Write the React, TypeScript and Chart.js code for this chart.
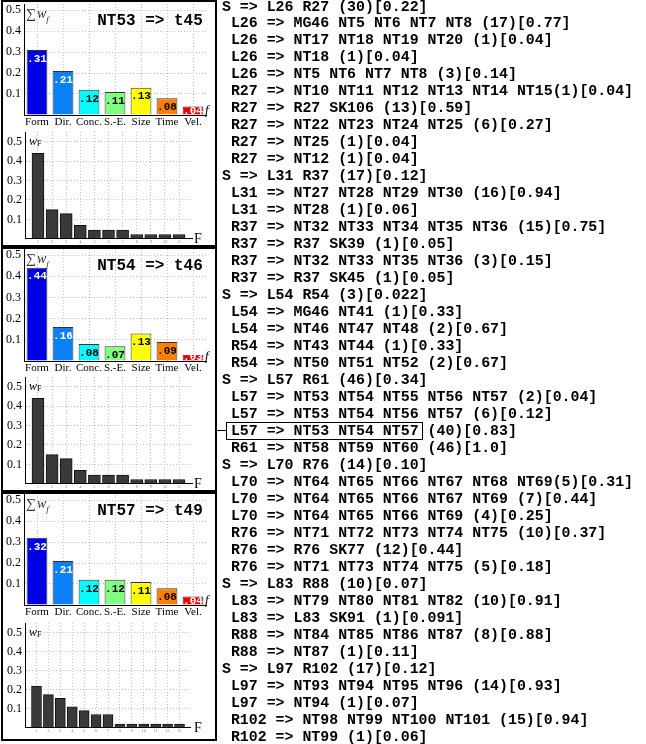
import React, { useEffect, useRef } from 'react';
import { Chart, registerables } from 'chart.js';

Chart.register(...registerables);
document.body.style.margin = '0';

// ---------- data ----------
const featureLabels = ['Form', 'Dir.', 'Conc.', 'S.-E.', 'Size', 'Time', 'Vel.'];
const featureColors = ['#0000e6', '#0a80f5', '#00ffff', '#80ff80', '#ffff00', '#ff8000', '#f00000'];
const featureTextColors = ['#ffffff', '#ffffff', '#000000', '#000000', '#000000', '#000000', '#ffffff'];

const panelTitles = ['NT53 => t45', 'NT54 => t46', 'NT57 => t49'];

const featureWeightsNT53 = [0.31, 0.21, 0.12, 0.11, 0.13, 0.08, 0.04];
const featureWeightsNT54 = [0.44, 0.16, 0.08, 0.07, 0.13, 0.09, 0.03];
const featureWeightsNT57 = [0.32, 0.21, 0.12, 0.12, 0.11, 0.08, 0.04];

const ruleIndexNT53 = [1, 2, 3, 4, 5, 6, 7, 8, 9, 10, 11];
const ruleWeightsNT53 = [0.44, 0.15, 0.13, 0.07, 0.045, 0.045, 0.045, 0.022, 0.022, 0.022, 0.022];
const ruleIndexNT54 = [1, 2, 3, 4, 5, 6, 7, 8, 9, 10, 11];
const ruleWeightsNT54 = [0.44, 0.15, 0.13, 0.07, 0.045, 0.045, 0.045, 0.022, 0.022, 0.022, 0.022];
const ruleIndexNT57 = [1, 2, 3, 4, 5, 6, 7, 8, 9, 10, 11, 12, 13];
const ruleWeightsNT57 = [0.22, 0.175, 0.155, 0.11, 0.09, 0.07, 0.07, 0.02, 0.02, 0.02, 0.02, 0.02, 0.02];

const grammarLines = [
  'S => L26 R27 (30)[0.22]',
  ' L26 => MG46 NT5 NT6 NT7 NT8 (17)[0.77]',
  ' L26 => NT17 NT18 NT19 NT20 (1)[0.04]',
  ' L26 => NT18 (1)[0.04]',
  ' L26 => NT5 NT6 NT7 NT8 (3)[0.14]',
  ' R27 => NT10 NT11 NT12 NT13 NT14 NT15(1)[0.04]',
  ' R27 => R27 SK106 (13)[0.59]',
  ' R27 => NT22 NT23 NT24 NT25 (6)[0.27]',
  ' R27 => NT25 (1)[0.04]',
  ' R27 => NT12 (1)[0.04]',
  'S => L31 R37 (17)[0.12]',
  ' L31 => NT27 NT28 NT29 NT30 (16)[0.94]',
  ' L31 => NT28 (1)[0.06]',
  ' R37 => NT32 NT33 NT34 NT35 NT36 (15)[0.75]',
  ' R37 => R37 SK39 (1)[0.05]',
  ' R37 => NT32 NT33 NT35 NT36 (3)[0.15]',
  ' R37 => R37 SK45 (1)[0.05]',
  'S => L54 R54 (3)[0.022]',
  ' L54 => MG46 NT41 (1)[0.33]',
  ' L54 => NT46 NT47 NT48 (2)[0.67]',
  ' R54 => NT43 NT44 (1)[0.33]',
  ' R54 => NT50 NT51 NT52 (2)[0.67]',
  'S => L57 R61 (46)[0.34]',
  ' L57 => NT53 NT54 NT55 NT56 NT57 (2)[0.04]',
  ' L57 => NT53 NT54 NT56 NT57 (6)[0.12]',
  ' L57 => NT53 NT54 NT57 (40)[0.83]',
  ' R61 => NT58 NT59 NT60 (46)[1.0]',
  'S => L70 R76 (14)[0.10]',
  ' L70 => NT64 NT65 NT66 NT67 NT68 NT69(5)[0.31]',
  ' L70 => NT64 NT65 NT66 NT67 NT69 (7)[0.44]',
  ' L70 => NT64 NT65 NT66 NT69 (4)[0.25]',
  ' R76 => NT71 NT72 NT73 NT74 NT75 (10)[0.37]',
  ' R76 => R76 SK77 (12)[0.44]',
  ' R76 => NT71 NT73 NT74 NT75 (5)[0.18]',
  'S => L83 R88 (10)[0.07]',
  ' L83 => NT79 NT80 NT81 NT82 (10)[0.91]',
  ' L83 => L83 SK91 (1)[0.091]',
  ' R88 => NT84 NT85 NT86 NT87 (8)[0.88]',
  ' R88 => NT87 (1)[0.11]',
  'S => L97 R102 (17)[0.12]',
  ' L97 => NT93 NT94 NT95 NT96 (14)[0.93]',
  ' L97 => NT94 (1)[0.07]',
  ' R102 => NT98 NT99 NT100 NT101 (15)[0.94]',
  ' R102 => NT99 (1)[0.06]',
];
const highlightedLine = 25;
const highlightedPart = 'L57 => NT53 NT54 NT57';

// ---------- layout (positions only) ----------
const panels = [
  { title: panelTitles[0], feat: featureWeightsNT53, ruleX: ruleIndexNT53, rule: ruleWeightsNT53,
    boxTop: 0, boxH: 247, topHalf: 10, topZero: 115, botHalf: 142, botZero: 241,
    xMin: 0.08, xMax: 11.92, barPx: 12, botRight: 192 },
  { title: panelTitles[1], feat: featureWeightsNT54, ruleX: ruleIndexNT54, rule: ruleWeightsNT54,
    boxTop: 247, boxH: 245, topHalf: 255, topZero: 361, botHalf: 387, botZero: 486,
    xMin: 0.08, xMax: 11.92, barPx: 12, botRight: 192 },
  { title: panelTitles[2], feat: featureWeightsNT57, ruleX: ruleIndexNT57, rule: ruleWeightsNT57,
    boxTop: 492, boxH: 249, topHalf: 500, topZero: 605, botHalf: 633, botZero: 730,
    xMin: 0.035, xMax: 13.88, barPx: 10, botRight: 190 },
];

const GRID = '#c4c4c4';
const SERIF = '"Liberation Serif", "Times New Roman", serif';
const MONO = '"Liberation Mono", "Courier New", monospace';
const CANVAS_W = 216;
const PAD_TOP = 12;

const valueLabelPlugin = {
  id: 'valueLabels',
  afterDatasetsDraw(chart: any) {
    const { ctx } = chart;
    const meta = chart.getDatasetMeta(0);
    const data = chart.data.datasets[0].data as number[];
    const base = chart.scales.y.getPixelForValue(0);
    meta.data.forEach((bar: any, i: number) => {
      const v = data[i];
      const text = '.' + String(Math.round(v * 100)).padStart(2, '0');
      const y = Math.min(bar.y + 9, base - 4);
      ctx.save();
      ctx.font = `bold 11px ${MONO}`;
      ctx.fillStyle = featureTextColors[i];
      ctx.textAlign = 'center';
      ctx.textBaseline = 'middle';
      ctx.fillText(text, bar.x, y);
      ctx.restore();
    });
  },
};

function yAxis(yMax: number, width: number) {
  return {
    min: 0,
    max: yMax,
    grid: { color: (c: any) => (c.tick && c.tick.value > 0.05 ? GRID : 'transparent'), drawTicks: false, lineWidth: 1 },
    border: { display: true, color: '#000', width: 1, dash: [1, 2] },
    ticks: {
      stepSize: 0.1,
      includeBounds: false,
      padding: 3,
      color: '#000',
      font: { family: SERIF, size: 12 },
      callback: (v: number) => (v < 0.05 || v > 0.55 ? '' : v.toFixed(1)),
    },
    afterFit: (s: any) => { s.width = width; },
  };
}

function featureGeom(p: any) {
  const axisTop = p.topHalf - 6;
  const yMax = (0.5 * (p.topZero - axisTop)) / (p.topZero - p.topHalf);
  const top = axisTop - PAD_TOP;
  const xH = 16;
  return { top, height: p.topZero - top + xH, yMax, xH };
}

function ruleGeom(p: any) {
  const axisTop = p.botHalf - 10;
  const yMax = (0.5 * (p.botZero - axisTop)) / (p.botZero - p.botHalf);
  const top = axisTop - PAD_TOP;
  const xH = 8;
  return { top, height: p.botZero - top + xH, yMax, xH };
}

function featureConfig(p: any): any {
  const g = featureGeom(p);
  return {
    type: 'bar',
    data: {
      labels: featureLabels,
      datasets: [{
        data: p.feat,
        backgroundColor: featureColors,
        borderColor: '#333',
        borderWidth: 1,
        barPercentage: 0.8,
        categoryPercentage: 1,
      }],
    },
    options: {
      animation: false,
      responsive: false,
      devicePixelRatio: 1,
      events: [],
      layout: { padding: { top: PAD_TOP, right: CANVAS_W - 206, left: 0, bottom: 0 } },
      plugins: { legend: { display: false }, tooltip: { enabled: false } },
      scales: {
        x: {
          grid: { offset: false, color: GRID, drawTicks: false },
          border: { display: true, color: '#000', width: 1, dash: [1, 2] },
          ticks: { color: '#000', font: { family: SERIF, size: 11 }, padding: 1, maxRotation: 0, minRotation: 0, autoSkip: false },
          afterFit: (s: any) => { s.height = g.xH; },
        },
        y: yAxis(g.yMax, 24),
      },
    },
    plugins: [valueLabelPlugin],
  };
}

function ruleConfig(p: any): any {
  const g = ruleGeom(p);
  const n = p.rule.length;
  return {
    type: 'bar',
    data: {
      datasets: [{
        data: p.rule.map((v: number, i: number) => ({ x: p.ruleX[i], y: v })),
        backgroundColor: '#3a3a3a',
        borderColor: '#111',
        borderWidth: 1,
        barThickness: p.barPx,
      }],
    },
    options: {
      animation: false,
      responsive: false,
      devicePixelRatio: 1,
      events: [],
      layout: { padding: { top: PAD_TOP, right: CANVAS_W - p.botRight, left: 0, bottom: 0 } },
      plugins: { legend: { display: false }, tooltip: { enabled: false } },
      scales: {
        x: {
          type: 'linear',
          min: p.xMin,
          max: p.xMax,
          offset: false,
          grid: { offset: false, drawTicks: false, color: (c: any) => (c.tick && c.tick.value >= 1 && c.tick.value <= n ? GRID : 'transparent') },
          border: { display: true, color: '#000', width: 1, dash: [1, 2] },
          ticks: {
            stepSize: 1,
            includeBounds: false,
            padding: 1,
            color: '#777',
            font: { family: SERIF, size: 4 },
            maxRotation: 0,
            autoSkip: false,
            callback: (v: number) => (Number.isInteger(v) && v >= 1 && v <= n ? String(v) : ''),
          },
          afterFit: (s: any) => { s.height = g.xH; },
        },
        y: yAxis(g.yMax, 25),
      },
    },
  };
}

function ChartCanvas({ top, height, config }: { top: number; height: number; config: () => any }) {
  const ref = useRef<HTMLCanvasElement>(null);
  useEffect(() => {
    const chart = new Chart(ref.current as HTMLCanvasElement, config());
    return () => chart.destroy();
  }, []);
  return (
    <canvas
      ref={ref}
      width={CANVAS_W}
      height={height}
      style={{ position: 'absolute', left: 0, top, width: CANVAS_W, height }}
    />
  );
}

function Panel({ p }: { p: any }) {
  const fg = featureGeom(p);
  const rg = ruleGeom(p);
  return (
    <>
      <ChartCanvas top={fg.top} height={fg.height} config={() => featureConfig(p)} />
      <ChartCanvas top={rg.top} height={rg.height} config={() => ruleConfig(p)} />
      <div style={{ position: 'absolute', left: 26, top: p.topHalf - 3, fontFamily: SERIF, fontSize: 14, lineHeight: '14px', color: '#333', whiteSpace: 'nowrap' }}>
        ∑<i style={{ marginLeft: 1 }}>w</i><sub style={{ fontSize: 9, fontStyle: 'italic' }}>f</sub>
      </div>
      <div style={{ position: 'absolute', left: 80, width: 140, top: p.topHalf + 2, textAlign: 'center', fontFamily: MONO, fontWeight: 'bold', fontSize: 16, lineHeight: '18px', whiteSpace: 'pre', color: '#000' }}>
        {p.title}
      </div>
      <div style={{ position: 'absolute', left: 205, top: p.topZero - 12, fontFamily: SERIF, fontStyle: 'italic', fontSize: 13, lineHeight: '13px', color: '#000' }}>f</div>
      <div style={{ position: 'absolute', left: 29, top: p.botHalf - 7, fontFamily: SERIF, fontSize: 12, lineHeight: '12px', color: '#000', whiteSpace: 'nowrap' }}>
        <i>w</i><sub style={{ fontSize: 8, verticalAlign: '-1px' }}>F</sub>
      </div>
      <div style={{ position: 'absolute', left: 194, top: p.botZero - 9, fontFamily: SERIF, fontSize: 14, lineHeight: '14px', color: '#000' }}>F</div>
      <div style={{ position: 'absolute', left: 1, top: p.boxTop, width: 216, height: p.boxH, border: '2px solid #000', boxSizing: 'border-box', pointerEvents: 'none' }} />
    </>
  );
}

export default function App() {
  return (
    <div style={{ position: 'relative', width: 646, height: 744, background: '#fff', overflow: 'hidden' }}>
      {panels.map((p, i) => <Panel key={i} p={p} />)}
      <div style={{ position: 'absolute', left: 217, top: 429.5, width: 10, height: 1.3, background: '#000' }} />
      <div style={{ position: 'absolute', left: 222, top: -1.5, fontFamily: MONO, fontWeight: 'bold', fontSize: 14.9, lineHeight: '16.98px', whiteSpace: 'pre', color: '#000' }}>
        {grammarLines.map((line, i) => {
          if (i === highlightedLine) {
            const idx = line.indexOf(highlightedPart);
            return (
              <div key={i}>
                {line.slice(0, idx)}
                <span style={{ position: 'relative' }}>
                  {highlightedPart}
                  <span style={{ position: 'absolute', left: -5, right: -4, top: -1, bottom: -1, border: '1.3px solid #000' }} />
                </span>
                {line.slice(idx + highlightedPart.length)}
              </div>
            );
          }
          return <div key={i}>{line}</div>;
        })}
      </div>
    </div>
  );
}
